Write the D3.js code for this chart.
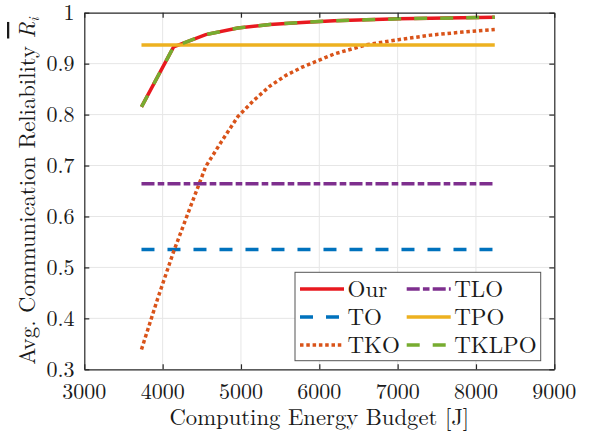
<!DOCTYPE html>
<html>
<head>
<meta charset="utf-8">
<script src="https://cdn.jsdelivr.net/npm/d3@7"></script>
<style>
  body { margin: 0; background: #fff; }
</style>
</head>
<body>
<div id="chart"></div>
<script>

// energy budget samples (J)
var budget = [3730, 4140, 4550, 4960, 5370, 5780, 6190, 6600, 7010, 7420, 7830, 8240];

var our   = [0.815, 0.933, 0.957, 0.970, 0.977, 0.981, 0.984, 0.986, 0.988, 0.989, 0.990, 0.991];
var tklpo = [0.815, 0.933, 0.957, 0.970, 0.977, 0.981, 0.984, 0.986, 0.988, 0.989, 0.990, 0.991];
var to    = [0.535, 0.535, 0.535, 0.535, 0.535, 0.535, 0.535, 0.535, 0.535, 0.535, 0.535, 0.535];
var tlo   = [0.664, 0.664, 0.664, 0.664, 0.664, 0.664, 0.664, 0.664, 0.664, 0.664, 0.664, 0.664];
var tpo   = [0.9365, 0.9365, 0.9365, 0.9365, 0.9365, 0.9365, 0.9365, 0.9365, 0.9365, 0.9365, 0.9365, 0.9365];

// TKO is sampled finer
var tkoBudget = [3730, 3935, 4140, 4345, 4550, 4755, 4960, 5165, 5370, 5575, 5780, 5985, 6190, 6600, 7010, 7420, 7830, 8240];
var tko       = [0.339, 0.438, 0.531, 0.615, 0.698, 0.748, 0.796, 0.828, 0.856, 0.877, 0.893, 0.906, 0.919, 0.937, 0.947, 0.956, 0.962, 0.967];

var xTicks = [3000, 4000, 5000, 6000, 7000, 8000, 9000];
var yTicks = [0.3, 0.4, 0.5, 0.6, 0.7, 0.8, 0.9, 1];

var width = 596, height = 435;
var margin = {top: 12.7, right: 41.7, bottom: 65.7, left: 84.3};
var axisColor = "#262626";
var textColor = "#1a1a1a";
var font = "'Latin Modern Roman', 'Liberation Serif', serif";

var svg = d3.select("#chart").append("svg")
    .attr("width", width)
    .attr("height", height)
    .style("font-family", font);

var x = d3.scaleLinear().domain([3000, 9000]).range([margin.left, width - margin.right]);
var y = d3.scaleLinear().domain([0.3, 1]).range([height - margin.bottom, margin.top]);

// grid
svg.append("g").selectAll("line")
    .data(xTicks.slice(1, -1))
    .enter().append("line")
    .attr("x1", function (d) { return x(d); })
    .attr("x2", function (d) { return x(d); })
    .attr("y1", y(0.3)).attr("y2", y(1))
    .attr("stroke", "#e6e6e6").attr("stroke-width", 1);

svg.append("g").selectAll("line")
    .data(yTicks.slice(1, -1))
    .enter().append("line")
    .attr("y1", function (d) { return y(d); })
    .attr("y2", function (d) { return y(d); })
    .attr("x1", x(3000)).attr("x2", x(9000))
    .attr("stroke", "#e6e6e6").attr("stroke-width", 1);

// series, in plotting order
var series = [
    {name: "Our",   xs: budget,    ys: our,   color: "#e8191f", dash: null},
    {name: "TO",    xs: budget,    ys: to,    color: "#0072bd", dash: "13,13"},
    {name: "TKO",   xs: tkoBudget, ys: tko,   color: "#d95319", dash: "3.5,2.8"},
    {name: "TLO",   xs: budget,    ys: tlo,   color: "#7e2f8e", dash: "13,3.2,6.6,3.2"},
    {name: "TPO",   xs: budget,    ys: tpo,   color: "#edb120", dash: null},
    {name: "TKLPO", xs: budget,    ys: tklpo, color: "#77ac30", dash: "13,13"}
];

var line = d3.line()
    .x(function (d) { return x(d[0]); })
    .y(function (d) { return y(d[1]); });

svg.append("g").selectAll("path")
    .data(series)
    .enter().append("path")
    .attr("d", function (s) { return line(d3.zip(s.xs, s.ys)); })
    .attr("fill", "none")
    .attr("stroke", function (s) { return s.color; })
    .attr("stroke-width", 3.5)
    .attr("stroke-dasharray", function (s) { return s.dash; });

// axes box with inward ticks on all sides
var xAxisB = d3.axisBottom(x).tickValues(xTicks).tickSizeInner(-5).tickSizeOuter(0).tickFormat("");
var xAxisT = d3.axisTop(x).tickValues(xTicks).tickSizeInner(-5).tickSizeOuter(0).tickFormat("");
var yAxisL = d3.axisLeft(y).tickValues(yTicks).tickSizeInner(-5).tickSizeOuter(0).tickFormat("");
var yAxisR = d3.axisRight(y).tickValues(yTicks).tickSizeInner(-5).tickSizeOuter(0).tickFormat("");

svg.append("g").attr("transform", "translate(0," + y(0.3) + ")").call(xAxisB);
svg.append("g").attr("transform", "translate(0," + y(1) + ")").call(xAxisT);
svg.append("g").attr("transform", "translate(" + x(3000) + ",0)").call(yAxisL);
svg.append("g").attr("transform", "translate(" + x(9000) + ",0)").call(yAxisR);
svg.selectAll(".domain, .tick line").attr("stroke", axisColor).attr("stroke-width", 1.2);

// tick labels
svg.append("g").selectAll("text")
    .data(xTicks)
    .enter().append("text")
    .attr("x", function (d) { return x(d); })
    .attr("y", 398.5)
    .attr("text-anchor", "middle")
    .style("font-family", font)
    .style("font-size", "22px")
    .style("fill", textColor)
    .text(function (d) { return d; });

svg.append("g").selectAll("text")
    .data(yTicks)
    .enter().append("text")
    .attr("x", 74.5)
    .attr("y", function (d) { return y(d); })
    .attr("dy", "0.35em")
    .attr("text-anchor", "end")
    .style("font-family", font)
    .style("font-size", "22px")
    .style("fill", textColor)
    .text(function (d) { return d === 1 ? "1" : d3.format(".1f")(d); });

// axis labels
svg.append("text")
    .attr("x", (x(3000) + x(9000)) / 2)
    .attr("y", 425)
    .attr("text-anchor", "middle")
    .style("font-family", font)
    .style("font-size", "22.7px")
    .style("fill", textColor)
    .text("Computing Energy Budget [J]");

var ylab = svg.append("text")
    .attr("transform", "translate(35," + ((y(0.3) + y(1)) / 2) + ") rotate(-90)")
    .attr("text-anchor", "middle")
    .style("font-family", font)
    .style("font-size", "22.7px")
    .style("fill", textColor);
ylab.append("tspan").text("Avg. Communication Reliability ");
ylab.append("tspan").style("font-style", "italic").style("text-decoration", "overline").text("R");
ylab.append("tspan").style("font-style", "italic").style("font-size", "15px").attr("dy", 4).text("i");

// legend
var legend = svg.append("g");
legend.append("rect")
    .attr("x", 295).attr("y", 272.3)
    .attr("width", 245.7).attr("height", 88.4)
    .attr("fill", "#fff")
    .attr("stroke", "#555").attr("stroke-width", 1);

var legendCols = [[0, 1, 2], [3, 4, 5]];
var colX = [300, 406.7];
var rowY = [289, 317, 345];

legendCols.forEach(function (col, ci) {
    col.forEach(function (si, ri) {
        var s = series[si];
        legend.append("line")
            .attr("x1", colX[ci]).attr("x2", colX[ci] + 44)
            .attr("y1", rowY[ri]).attr("y2", rowY[ri])
            .attr("stroke", s.color)
            .attr("stroke-width", 3.5)
            .attr("stroke-dasharray", s.dash);
        legend.append("text")
            .attr("x", colX[ci] + 47.5)
            .attr("y", rowY[ri])
            .attr("dy", "0.35em")
            .style("font-family", font)
            .style("font-size", "23px")
            .style("fill", textColor)
            .text(s.name);
    });
});

</script>
</body>
</html>
